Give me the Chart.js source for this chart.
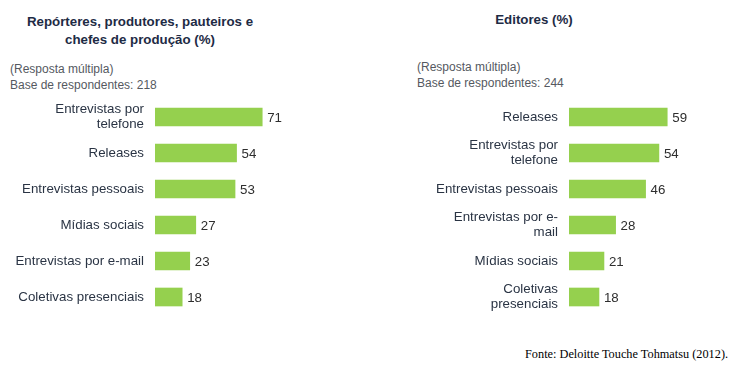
<!DOCTYPE html>
<html><head><meta charset="utf-8">
<script src="https://cdn.jsdelivr.net/npm/chart.js@4/dist/chart.umd.min.js"></script>
<style>
html,body{margin:0;padding:0;background:#fff;width:735px;height:368px;overflow:hidden;font-family:"Liberation Sans",Arial,sans-serif;}
.abs{position:absolute;}
.title{font-weight:bold;font-size:13.3px;color:#1e2b45;text-align:center;line-height:18px;}
.sub{font-size:12px;color:#55595f;line-height:16px;}
.src{font-family:"Liberation Serif","Times New Roman",serif;font-size:12.3px;color:#000;}
</style></head>
<body>
<div class="abs title" style="left:0;width:280px;top:13px;">Repórteres, produtores, pauteiros e<br>chefes de produção (%)</div>
<div class="abs title" style="left:434px;width:200px;top:11px;">Editores (%)</div>
<div class="abs sub" style="left:10px;top:61px;">(Resposta múltipla)<br>Base de respondentes: 218</div>
<div class="abs sub" style="left:417px;top:59px;">(Resposta múltipla)<br>Base de respondentes: 244</div>
<div class="abs src" style="left:525px;top:347px;">Fonte: Deloitte Touche Tohmatsu (2012).</div>
<div class="abs" style="left:0;top:99px;width:340px;height:216px;"><canvas id="c1"></canvas></div>
<div class="abs" style="left:400px;top:99px;width:335px;height:216px;"><canvas id="c2"></canvas></div>
<script>
const reporterCategories = [["Entrevistas por","telefone"],"Releases","Entrevistas pessoais","Mídias sociais","Entrevistas por e-mail","Coletivas presenciais"];
const reporterValues = [71,54,53,27,23,18];
const editorCategories = ["Releases",["Entrevistas por","telefone"],"Entrevistas pessoais",["Entrevistas por e-","mail"],"Mídias sociais",["Coletivas","presenciais"]];
const editorValues = [59,54,46,28,21,18];

const valueLabels = {
  id:'valueLabels',
  afterDatasetsDraw(chart){
    const ctx = chart.ctx;
    const meta = chart.getDatasetMeta(0);
    ctx.save();
    ctx.font = '13.3px "Liberation Sans", Arial, sans-serif';
    ctx.fillStyle = '#2e2e2e';
    ctx.textAlign = 'left';
    ctx.textBaseline = 'middle';
    meta.data.forEach((bar,i)=>{
      ctx.fillText(String(chart.data.datasets[0].data[i]), bar.x + 5, bar.y + 1);
    });
    ctx.restore();
  }
};

function makeChart(id, labels, values, yWidth, xMax){
  new Chart(document.getElementById(id), {
    type:'bar',
    data:{labels:labels, datasets:[{data:values, backgroundColor:'#95d04e', barThickness:18}]},
    options:{
      indexAxis:'y',
      responsive:true, maintainAspectRatio:false, animation:false,
      layout:{padding:0},
      plugins:{legend:{display:false}, tooltip:{enabled:false}, title:{display:false}},
      scales:{
        x:{display:false, min:0, max:xMax},
        y:{
          grid:{display:false, drawTicks:false},
          border:{display:false},
          ticks:{padding:11, color:'#2a3444', font:{family:'"Liberation Sans", Arial, sans-serif', size:13.3, lineHeight:1.12}},
          afterFit(s){ s.width = yWidth; s.paddingTop = 0; s.paddingBottom = 0; }
        }
      }
    },
    plugins:[valueLabels]
  });
}
makeChart('c1', reporterCategories, reporterValues, 155, 122.5);
makeChart('c2', editorCategories, editorValues, 169, 99.7);
</script>
</body></html>
